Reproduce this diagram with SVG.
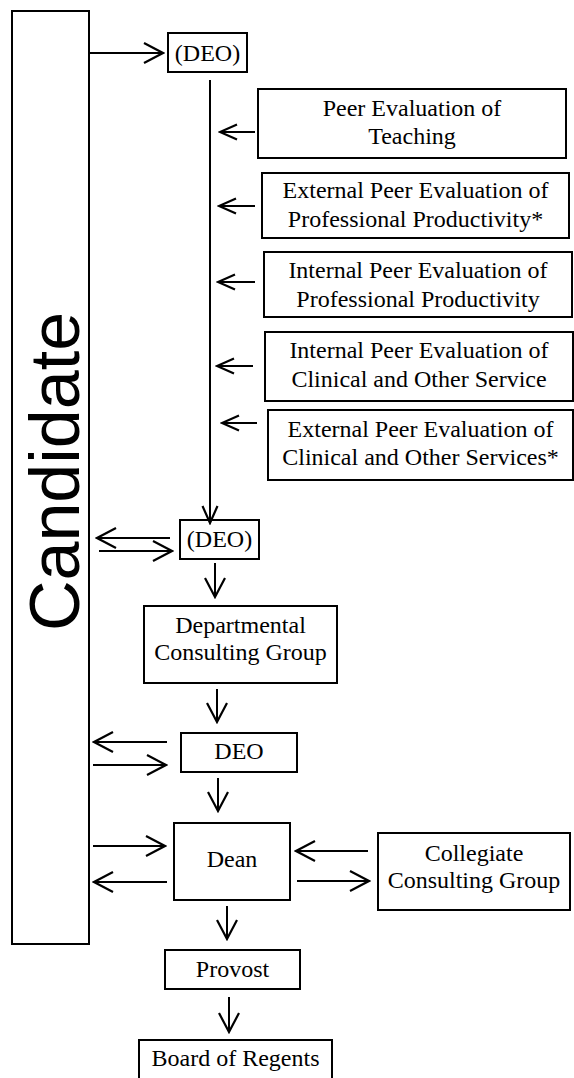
<svg xmlns="http://www.w3.org/2000/svg" width="574" height="1078" viewBox="0 0 574 1078">
<style>
.box{fill:#fff;stroke:#000;stroke-width:2}
.lbl{font-family:'Liberation Serif','Times New Roman',Times,'DejaVu Serif',serif;font-size:24px;fill:#000;text-anchor:middle}
.cand{font-family:'Liberation Sans',Arial,sans-serif;font-size:70px;fill:#000;text-anchor:middle}
.ln{stroke:#000;stroke-width:2;fill:none;marker-end:url(#ah)}
.sm{stroke:#000;stroke-width:2;fill:none;marker-end:url(#ahs)}
</style>
<defs>
<marker id="ah" markerUnits="userSpaceOnUse" viewBox="-21 -12 23 24" refX="0" refY="0" markerWidth="23" markerHeight="24" orient="auto">
<path d="M -19 -10 L 0 0 L -19 10" fill="none" stroke="#000" stroke-width="2.2"/>
</marker>
<marker id="ahs" markerUnits="userSpaceOnUse" viewBox="-21 -12 23 24" refX="0" refY="0" markerWidth="23" markerHeight="24" orient="auto">
<path d="M -17 -7.5 L 0 0 L -17 7.5" fill="none" stroke="#000" stroke-width="2.2"/>
</marker>
</defs>
<g id="candidate">
<rect class="box" x="12" y="11" width="77" height="933" stroke-width="1.6"/>
<text class="cand" transform="translate(79,471.5) rotate(-90)">Candidate</text>
</g>
<g id="deo1">
<rect class="box" x="168" y="33" width="79" height="39"/>
<text class="lbl" x="207.5" y="61">(DEO)</text>
</g>
<g id="peer-teaching">
<rect class="box" x="258" y="89" width="308" height="69"/>
<text class="lbl" x="412" y="115.5">Peer Evaluation of</text>
<text class="lbl" x="412" y="143.5">Teaching</text>
</g>
<g id="ext-prof">
<rect class="box" x="262" y="173" width="307" height="65"/>
<text class="lbl" x="415.5" y="198">External Peer Evaluation of</text>
<text class="lbl" x="415.5" y="226.5">Professional Productivity*</text>
</g>
<g id="int-prof">
<rect class="box" x="264" y="252" width="308" height="65"/>
<text class="lbl" x="418" y="278">Internal Peer Evaluation of</text>
<text class="lbl" x="418" y="306.5">Professional Productivity</text>
</g>
<g id="int-clin">
<rect class="box" x="265" y="332" width="308" height="69"/>
<text class="lbl" x="419" y="358">Internal Peer Evaluation of</text>
<text class="lbl" x="419" y="386.5">Clinical and Other Service</text>
</g>
<g id="ext-clin">
<rect class="box" x="268" y="410" width="305" height="70"/>
<text class="lbl" x="420.5" y="437">External Peer Evaluation of</text>
<text class="lbl" x="420.5" y="465">Clinical and Other Services*</text>
</g>
<g id="deo2">
<rect class="box" x="180" y="520" width="79" height="39"/>
<text class="lbl" x="219.5" y="547">(DEO)</text>
</g>
<g id="dept-group">
<rect class="box" x="144" y="606" width="193" height="77"/>
<text class="lbl" x="240.5" y="633">Departmental</text>
<text class="lbl" x="240.5" y="660">Consulting Group</text>
</g>
<g id="deo3">
<rect class="box" x="181" y="733" width="116" height="39"/>
<text class="lbl" x="239" y="758.5">DEO</text>
</g>
<g id="dean">
<rect class="box" x="174" y="823" width="116" height="77"/>
<text class="lbl" x="232" y="867">Dean</text>
</g>
<g id="collegiate-group">
<rect class="box" x="378" y="833" width="192" height="77"/>
<text class="lbl" x="474" y="861">Collegiate</text>
<text class="lbl" x="474" y="888">Consulting Group</text>
</g>
<g id="provost">
<rect class="box" x="165" y="950" width="135" height="39"/>
<text class="lbl" x="232.5" y="977">Provost</text>
</g>
<g id="regents">
<rect class="box" x="139" y="1040" width="193" height="45"/>
<text class="lbl" x="235.5" y="1066">Board of Regents</text>
</g>
<g id="connectors">
<line class="ln" x1="89" y1="53" x2="163" y2="53"/>
<line class="sm" x1="210" y1="80" x2="210" y2="523"/>
<line class="sm" x1="255" y1="132" x2="220" y2="132"/>
<line class="sm" x1="255" y1="206" x2="219" y2="206"/>
<line class="sm" x1="255" y1="282" x2="218" y2="282"/>
<line class="sm" x1="253" y1="366" x2="217" y2="366"/>
<line class="sm" x1="257" y1="423" x2="222" y2="423"/>
<line class="ln" x1="170" y1="538" x2="97" y2="538"/>
<line class="ln" x1="99" y1="551" x2="172" y2="551"/>
<line class="ln" x1="215" y1="563" x2="215" y2="597"/>
<line class="ln" x1="217" y1="689" x2="217" y2="722"/>
<line class="ln" x1="167" y1="742" x2="94" y2="742"/>
<line class="ln" x1="93" y1="765" x2="166" y2="765"/>
<line class="ln" x1="218" y1="778" x2="218" y2="811"/>
<line class="ln" x1="93" y1="846" x2="165" y2="846"/>
<line class="ln" x1="167" y1="882" x2="94" y2="882"/>
<line class="ln" x1="368" y1="851" x2="296" y2="851"/>
<line class="ln" x1="297" y1="881" x2="369" y2="881"/>
<line class="ln" x1="227" y1="906" x2="227" y2="939"/>
<line class="ln" x1="229" y1="997" x2="229" y2="1032"/>
</g>
</svg>
